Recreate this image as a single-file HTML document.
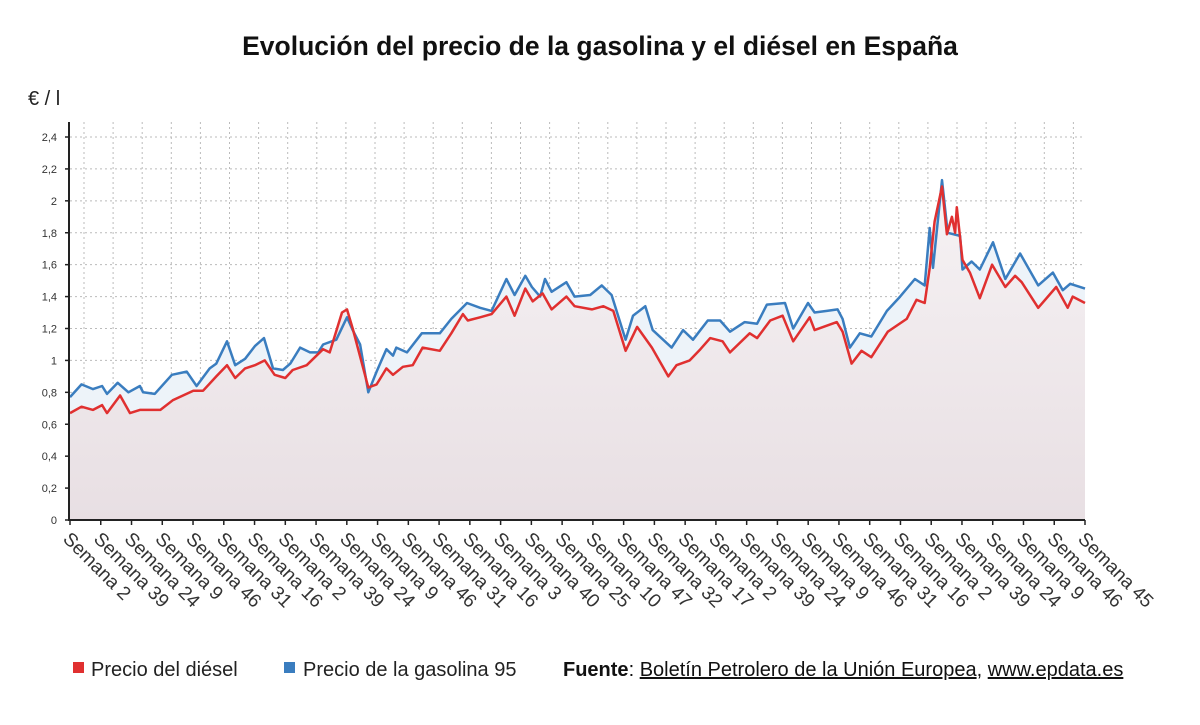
<!DOCTYPE html>
<html><head><meta charset="utf-8"><style>
body{margin:0;background:#fff;width:1200px;height:720px;overflow:hidden;font-family:"Liberation Sans",sans-serif}
</style></head><body>
<svg width="1200" height="720" xmlns="http://www.w3.org/2000/svg" font-family="Liberation Sans, sans-serif">
<defs>
<linearGradient id="rg" x1="0" y1="0" x2="0" y2="1"><stop offset="0" stop-color="#f6f2f4"/><stop offset="1" stop-color="#e8dfe3"/></linearGradient>
</defs>
<text x="600" y="55" text-anchor="middle" font-size="26.5" font-weight="bold" fill="#111">Evolución del precio de la gasolina y el diésel en España</text>
<text x="28" y="105" font-size="20" fill="#222">€ / l</text>
<g id="grid"></g>
<g id="areas"></g>
<g id="lines"></g>
<g id="axes"></g>
<g>
<rect x="73" y="662" width="11" height="11" fill="#e03030"/>
<text x="91" y="676" font-size="20" fill="#222">Precio del diésel</text>
<rect x="284" y="662" width="11" height="11" fill="#3a7dbf"/>
<text x="303" y="676" font-size="20" fill="#222">Precio de la gasolina 95</text>
</g>
<text x="563" y="676" font-size="20" fill="#111"><tspan font-weight="bold">Fuente</tspan>: <tspan text-decoration="underline">Boletín Petrolero de la Unión Europea</tspan>, <tspan text-decoration="underline">www.epdata.es</tspan></text>
</svg>
<script>
const xLabels=["2","39","24","9","46","31","16","2","39","24","9","46","31","16","3","40","25","10","47","32","17","2","39","24","9","46","31","16","2","39","24","9","46","45"];
const yTicks=[0,0.2,0.4,0.6,0.8,1,1.2,1.4,1.6,1.8,2,2.2,2.4];
const gasWeeks=[0,14,28,39,45,58,71,85,89,103,124,142,154,170,178,191,201,213,225,236,247,259,268,280,292,302,308,324,337,344,353,363,373,385,393,397,410,428,450,464,483,499,513,531,541,554,562,572,578,586,604,614,633,647,659,676,685,700,709,732,746,758,776,791,803,821,836,848,870,880,898,906,921,934,940,949,961,975,994,1010,1028,1040,1046,1050,1061,1068,1083,1086,1097,1107,1123,1138,1156,1178,1196,1208,1217,1235];
const gasValues=[0.77,0.85,0.82,0.84,0.79,0.86,0.80,0.84,0.80,0.79,0.91,0.93,0.84,0.95,0.98,1.12,0.97,1.01,1.09,1.14,0.95,0.94,0.98,1.08,1.05,1.05,1.10,1.13,1.27,1.19,1.10,0.80,0.93,1.07,1.03,1.08,1.05,1.17,1.17,1.26,1.36,1.33,1.31,1.51,1.41,1.53,1.46,1.40,1.51,1.43,1.49,1.40,1.41,1.47,1.41,1.13,1.28,1.34,1.19,1.08,1.19,1.13,1.25,1.25,1.18,1.24,1.23,1.35,1.36,1.20,1.36,1.30,1.31,1.32,1.26,1.08,1.17,1.15,1.31,1.40,1.51,1.47,1.83,1.58,2.13,1.80,1.78,1.57,1.62,1.57,1.74,1.51,1.67,1.47,1.55,1.44,1.48,1.45];
const dieselWeeks=[0,14,28,39,45,61,73,85,110,125,150,162,178,191,201,213,225,237,249,262,271,288,308,316,331,337,344,363,373,385,393,405,417,429,450,464,478,484,499,513,531,541,554,563,575,586,604,614,635,649,661,676,690,708,728,738,754,767,779,794,803,827,836,852,867,880,900,906,933,940,951,963,975,995,1018,1030,1040,1046,1052,1061,1067,1073,1077,1079,1086,1095,1107,1122,1138,1150,1158,1178,1200,1214,1220,1235];
const dieselValues=[0.67,0.71,0.69,0.72,0.67,0.78,0.67,0.69,0.69,0.75,0.81,0.81,0.90,0.97,0.89,0.95,0.97,1.00,0.91,0.89,0.94,0.97,1.07,1.05,1.30,1.32,1.20,0.83,0.85,0.95,0.91,0.96,0.97,1.08,1.06,1.17,1.29,1.25,1.27,1.29,1.40,1.28,1.45,1.37,1.42,1.32,1.40,1.34,1.32,1.34,1.31,1.06,1.21,1.08,0.90,0.97,1.00,1.07,1.14,1.12,1.05,1.17,1.14,1.25,1.28,1.12,1.27,1.19,1.24,1.18,0.98,1.06,1.02,1.18,1.26,1.38,1.36,1.58,1.87,2.09,1.79,1.90,1.80,1.96,1.63,1.55,1.39,1.60,1.46,1.53,1.49,1.33,1.46,1.33,1.40,1.36];

const NS="http://www.w3.org/2000/svg";
const X0=70,X1=1085,Y0=520,YTOP=137,WMAX=1235,VMAX=2.4;
const xs=w=>X0+(w/WMAX)*(X1-X0);
const ys=v=>Y0-(v/VMAX)*(Y0-YTOP);
function mk(tag,attrs,parent){const e=document.createElementNS(NS,tag);for(const k in attrs)e.setAttribute(k,attrs[k]);parent.appendChild(e);return e;}
const grid=document.getElementById('grid'),areas=document.getElementById('areas'),lines=document.getElementById('lines'),axes=document.getElementById('axes');
for(let gx=84;gx<=X1;gx+=29.1){const l=mk('line',{x1:gx,x2:gx,y1:122,y2:Y0,stroke:'#bbb','stroke-dasharray':'2,3'},grid);

}
yTicks.forEach(v=>{const y=ys(v);
if(v>0){const g=mk('line',{x1:X0,x2:X1,y1:y,y2:y,stroke:'#bbb','stroke-dasharray':'2,3'},grid);

}
const t=mk('line',{x1:X0-5,x2:X0,y1:y,y2:y,stroke:'#222','stroke-width':1.5},axes);


const lb=mk('text',{x:57,y:y+4,'text-anchor':'end','font-size':11,fill:'#333'},axes);lb.textContent=String(v).replace('.',',');

});
function pts(ws,vs){return ws.map((w,i)=>xs(w).toFixed(1)+','+ys(vs[i]).toFixed(1)).join(' ');}
const gp=pts(gasWeeks,gasValues),dp=pts(dieselWeeks,dieselValues);
const ga=mk('polygon',{points:xs(0)+','+Y0+' '+gp+' '+xs(WMAX)+','+Y0,fill:'#edf3f9'},areas);


const da=mk('polygon',{points:xs(0)+','+Y0+' '+dp+' '+xs(WMAX)+','+Y0,fill:'url(#rg)'},areas);


const gl=mk('polyline',{points:gp,fill:'none',stroke:'#3a7dbf','stroke-width':2.5,'stroke-linejoin':'round'},lines);


const dl=mk('polyline',{points:dp,fill:'none',stroke:'#e03030','stroke-width':2.5,'stroke-linejoin':'round'},lines);


const ya=mk('line',{x1:X0-1,x2:X0-1,y1:122,y2:Y0+1,stroke:'#222','stroke-width':2},axes);


const xa=mk('line',{x1:X0-1,x2:X1,y1:Y0,y2:Y0,stroke:'#222','stroke-width':2},axes);


xLabels.forEach((s,i)=>{const x=X0+i*(X1-X0)/(xLabels.length-1);
const tk=mk('line',{x1:x,x2:x,y1:Y0,y2:Y0+5,stroke:'#222','stroke-width':1.5},axes);


const t=mk('text',{x:x-8,y:Y0+20,'font-size':19,fill:'#333',transform:'rotate(45 '+(x-8)+' '+(Y0+20)+')'},axes);t.textContent='Semana '+s;

});
</script>
</body></html>
